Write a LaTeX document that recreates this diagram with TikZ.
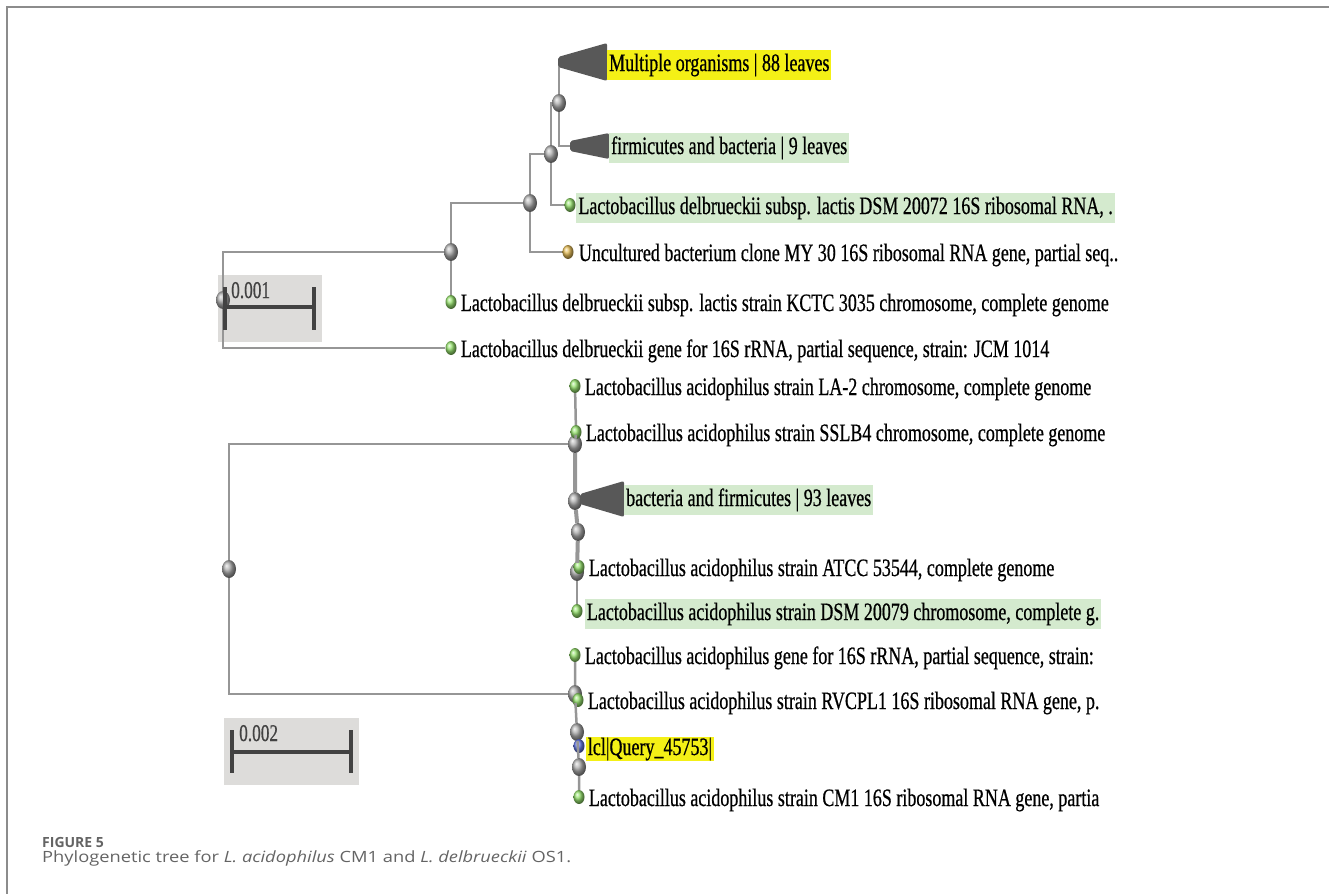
\documentclass[tikz,border=0pt]{standalone}
\usepackage{fontspec}
\setmainfont{Liberation Serif}
\newfontfamily\treefont[FakeStretch=0.72, FakeBold=0.6]{Liberation Serif}
\newfontfamily\capfont[FakeStretch=1.18]{Open Sans}
\newfontfamily\capheadfont{Open Sans}
\usetikzlibrary{shapes,positioning,calc}

\definecolor{branchgray}{RGB}{150,150,150}
\definecolor{framegray}{RGB}{140,140,140}
\definecolor{cladegray}{RGB}{88,88,88}
\definecolor{hlgreen}{RGB}{212,234,206}
\definecolor{hlyellow}{RGB}{244,240,22}
\definecolor{barbox}{RGB}{221,220,218}
\definecolor{bardark}{RGB}{66,66,66}
\definecolor{capgray}{RGB}{100,100,100}
\definecolor{leafgreen}{RGB}{150,225,110}
\definecolor{leaforange}{RGB}{230,190,90}
\definecolor{leafblue}{RGB}{100,120,230}

\tikzset{
  inode/.style={ellipse, inner sep=0pt, minimum width=14pt, minimum height=18pt, shading=ball, ball color=gray!65},
  leaf/.style={ellipse, inner sep=0pt, minimum width=11pt, minimum height=14pt, shading=ball, ball color=#1},
  leaf/.default=leafgreen,
  branch/.style={draw=branchgray, line width=2.5pt},
  lab/.style={font=\treefont\fontsize{25}{27}\selectfont, inner xsep=2pt, inner ysep=3pt, text height=18pt, text depth=6pt, yshift=-3pt},
  clade/.style={fill=cladegray, rounded corners=2pt},
  scalebar/.style={draw=bardark, line width=4pt},
  scalelab/.style={font=\treefont\fontsize{24}{26}\selectfont, text=bardark, inner sep=0pt, anchor=base west}
}

\newcommand{\cladetri}[3]{%
  \fill[clade] ($(#1)+(0,-5)$) -- ($(#1)+(#2,-#3)$) -- ($(#1)+(#2,#3)$) -- ($(#1)+(0,5)$) -- cycle;}

\begin{document}
\begin{tikzpicture}[x=1pt, y=-1pt]
\useasboundingbox (0,0) rectangle (1329,894);
\draw[framegray, line width=2pt] (1329,7) -- (7,7) -- (7,894);

\fill[barbox] (218,275) rectangle (322,342);
\fill[barbox] (224,718) rectangle (359,785);

% delbrueckii tree
\node[inode] (rootA) at (223,300) {};
\node[inode] (nA1) at (451,252) {};
\node[inode] (nA2) at (530,203) {};
\node[inode] (nA3) at (551,154) {};
\node[inode] (nA4) at (559,103) {};
\coordinate (cMulti) at (558,62);
\coordinate (cFirm) at (570,146);
\node[leaf] (lDSMa) at (570,205) {};
\node[leaf=leaforange] (lUnc) at (568,252) {};
\node[leaf] (lKCTC) at (451,302) {};
\node[leaf] (lJCM) at (451,348) {};

\draw[branch] (rootA) |- (nA1);
\draw[branch] (rootA) |- (lJCM);
\draw[branch] (nA1) |- (nA2);
\draw[branch] (nA1) -- (lKCTC);
\draw[branch] (nA2) |- (nA3);
\draw[branch] (nA2) |- (lUnc);
\draw[branch] (nA3) |- (nA4);
\draw[branch] (nA3) |- (lDSMa);
\draw[branch] (nA4) |- (cMulti);
\draw[branch] (nA4) |- (cFirm);
\cladetri{cMulti}{49}{19}
\cladetri{cFirm}{39}{13}

% acidophilus tree
\node[inode] (rootB) at (229,569) {};
\node[inode] (nB1) at (575,444) {};
\node[inode] (nB2) at (575,694) {};
\node[inode] (nB3) at (575,501) {};
\node[inode] (nB4) at (578,532) {};
\node[inode] (nB5) at (577,572) {};
\node[inode] (nB6) at (577,732) {};
\node[inode] (nB7) at (579,767) {};
\coordinate (cBact) at (580,499);
\node[leaf] (lLA2) at (575,386) {};
\node[leaf] (lSSLB4) at (576,432) {};
\node[leaf] (lATCC) at (579,567) {};
\node[leaf] (lDSMb) at (577,611) {};
\node[leaf] (l16S) at (575,655) {};
\node[leaf] (lRV) at (578,700) {};
\node[leaf=leafblue] (lQuery) at (579,746) {};
\node[leaf] (lCM1) at (579,797) {};

\draw[branch] (rootB) |- (nB1);
\draw[branch] (rootB) |- (nB2);
\draw[branch] (nB1) -- (lSSLB4) -- (lLA2);
\draw[branch, line width=4pt] (nB1) -- (nB3) -- (nB4) -- (nB5);
\draw[branch] (nB5) -- (lDSMb);
\draw[branch] (nB3) -- (cBact);
\draw[branch] (l16S) -- (nB2) -- (nB6) -- (nB7) -- (lCM1);
\cladetri{cBact}{44}{18}

\begin{scope}
\clip (0,0) rectangle (1122,894);
\node[lab, fill=hlyellow, anchor=west] (tMulti) at (607,62) {Multiple organisms | 88 leaves};
\node[lab, fill=hlgreen, anchor=west] (tFirm) at (609,145) {firmicutes and bacteria | 9 leaves};
\node[lab, fill=hlgreen, right=0.5pt of lDSMa] (tDSMa) {Lactobacillus delbrueckii subsp. lactis DSM 20072 16S ribosomal RNA, .};
\node[lab, right=3pt of lUnc] (tUnc) {Uncultured bacterium clone MY 30 16S ribosomal RNA gene, partial seq..};
\node[lab, right=2pt of lKCTC] (tKCTC) {Lactobacillus delbrueckii subsp. lactis strain KCTC 3035 chromosome, complete genome};
\node[lab, right=2pt of lJCM] (tJCM) {Lactobacillus delbrueckii gene for 16S rRNA, partial sequence, strain: JCM 1014};
\node[lab, right=2pt of lLA2] (tLA2) {Lactobacillus acidophilus strain LA-2 chromosome, complete genome};
\node[lab, right=2pt of lSSLB4] (tSSLB4) {Lactobacillus acidophilus strain SSLB4 chromosome, complete genome};
\node[lab, fill=hlgreen, anchor=west] (tBact) at (624,497) {bacteria and firmicutes | 93 leaves};
\node[lab, right=2pt of lATCC] (tATCC) {Lactobacillus acidophilus strain ATCC 53544, complete genome};
\node[lab, fill=hlgreen, right=2pt of lDSMb] (tDSMb) {Lactobacillus acidophilus strain DSM 20079 chromosome, complete g.};
\node[lab, right=2pt of l16S] (t16S) {Lactobacillus acidophilus gene for 16S rRNA, partial sequence, strain:};
\node[lab, right=2pt of lRV] (tRV) {Lactobacillus acidophilus strain RVCPL1 16S ribosomal RNA gene, p.};
\node[lab, fill=hlyellow, inner ysep=0pt, right=1pt of lQuery] (tQuery) {lcl|Query\_45753|};
\node[lab, right=2pt of lCM1] (tCM1) {Lactobacillus acidophilus strain CM1 16S ribosomal RNA gene, partia};
\end{scope}

\draw[scalebar] (225,287) -- (225,330);
\draw[scalebar] (314,287) -- (314,330);
\draw[scalebar] (225,307) -- (314,307);
\node[scalelab] (sA) at (231,298) {0.001};
\draw[scalebar] (232,730) -- (232,773);
\draw[scalebar] (351,730) -- (351,773);
\draw[scalebar] (232,752) -- (351,752);
\node[scalelab] (sB) at (239,741) {0.002};

\node[font=\capheadfont\bfseries\fontsize{14}{16}\selectfont, text=capgray, anchor=base west, inner sep=0pt] (figno) at (42,847) {FIGURE 5};
\node[font=\capfont\fontsize{15.5}{18}\selectfont, text=capgray, anchor=base west, inner sep=0pt] (caption) at (42,862) {Phylogenetic tree for \textit{L. acidophilus} CM1 and \textit{L. delbrueckii} OS1.};
\end{tikzpicture}
\end{document}
